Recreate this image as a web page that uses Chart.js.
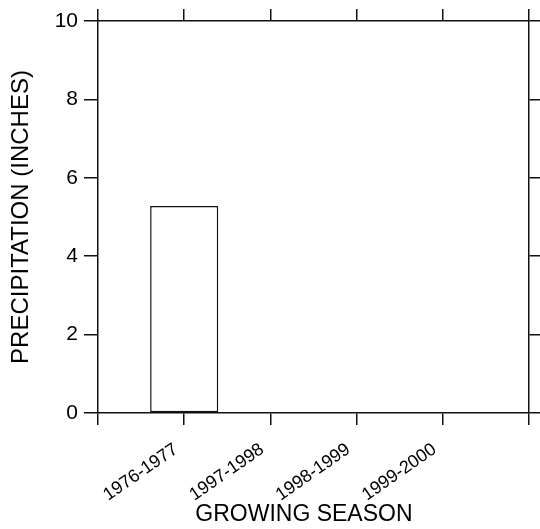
<!DOCTYPE html>
<html>
<head>
<meta charset="utf-8">
<script src="https://cdn.jsdelivr.net/npm/chart.js@4/dist/chart.umd.min.js"></script>
<style>
  html, body { margin: 0; padding: 0; background: #fff; }
  #wrap { width: 540px; height: 529px; }
</style>
</head>
<body>
<div id="wrap"><canvas id="c" width="540" height="529"></canvas></div>
<script>
const categories = ['1976-1977', '1997-1998', '1998-1999', '1999-2000'];
const precipitation = [5.28, 0, 0, 0];
const yTicks = [0, 2, 4, 6, 8, 10];
const xTitle = 'GROWING SEASON';
const yTitle = 'PRECIPITATION (INCHES)';

const labels = [''].concat(categories, ['']);
const values = [null].concat(precipitation, [null]);

const FONT = 'Liberation Sans, Arial, Helvetica, sans-serif';
const INK = '#111';

const hGrid = (len) => ({ offset: false, drawOnChartArea: false, drawTicks: true, tickLength: len, color: INK, lineWidth: 1.5 });
const border = { display: true, color: INK, width: 1.5 };
const noPad = (h) => (s) => { s.height = h; s.paddingLeft = 0; s.paddingRight = 0; };

new Chart(document.getElementById('c'), {
  type: 'bar',
  data: {
    labels: labels,
    datasets: [{
      data: values,
      backgroundColor: '#fff',
      borderColor: INK,
      borderWidth: 1.5,
      borderSkipped: false,
      categoryPercentage: 1,
      barPercentage: 0.79
    }]
  },
  options: {
    responsive: false,
    animation: false,
    devicePixelRatio: 1,
    layout: { padding: 0 },
    plugins: { legend: { display: false }, tooltip: { enabled: false } },
    scales: {
      x: {
        type: 'category',
        position: 'bottom',
        offset: false,
        grid: hGrid(12),
        border: border,
        ticks: {
          color: '#000', font: { family: FONT, size: 18 }, minRotation: 35, maxRotation: 35, padding: 8, autoSkip: false,
          callback: function (v) { const l = this.getLabelForValue(v); return l ? l + '  ' : l; }
        },
        title: { display: true, text: xTitle + '   ', color: '#000', font: { family: FONT, size: 23 }, padding: { top: 0, bottom: 1 } },
        afterFit: noPad(116)
      },
      x2: {
        type: 'category',
        position: 'top',
        offset: false,
        grid: hGrid(12),
        border: border,
        ticks: { display: false, autoSkip: false },
        afterFit: noPad(21)
      },
      y: {
        position: 'left',
        min: yTicks[0],
        max: yTicks[yTicks.length - 1],
        afterBuildTicks: (s) => { s.ticks = yTicks.map(v => ({ value: v })); },
        grid: hGrid(14),
        border: border,
        ticks: { color: '#000', font: { family: FONT, size: 21 }, padding: 6 },
        title: { display: true, text: yTitle, color: '#000', font: { family: FONT, size: 24 }, padding: { top: 7, bottom: 0 } },
        afterFit: (s) => { s.width = 98; }
      },
      y2: {
        position: 'right',
        min: yTicks[0],
        max: yTicks[yTicks.length - 1],
        afterBuildTicks: (s) => { s.ticks = yTicks.map(v => ({ value: v })); },
        grid: hGrid(11),
        border: border,
        ticks: { display: false },
        afterFit: (s) => { s.width = 11; }
      }
    }
  }
});
</script>
</body>
</html>
